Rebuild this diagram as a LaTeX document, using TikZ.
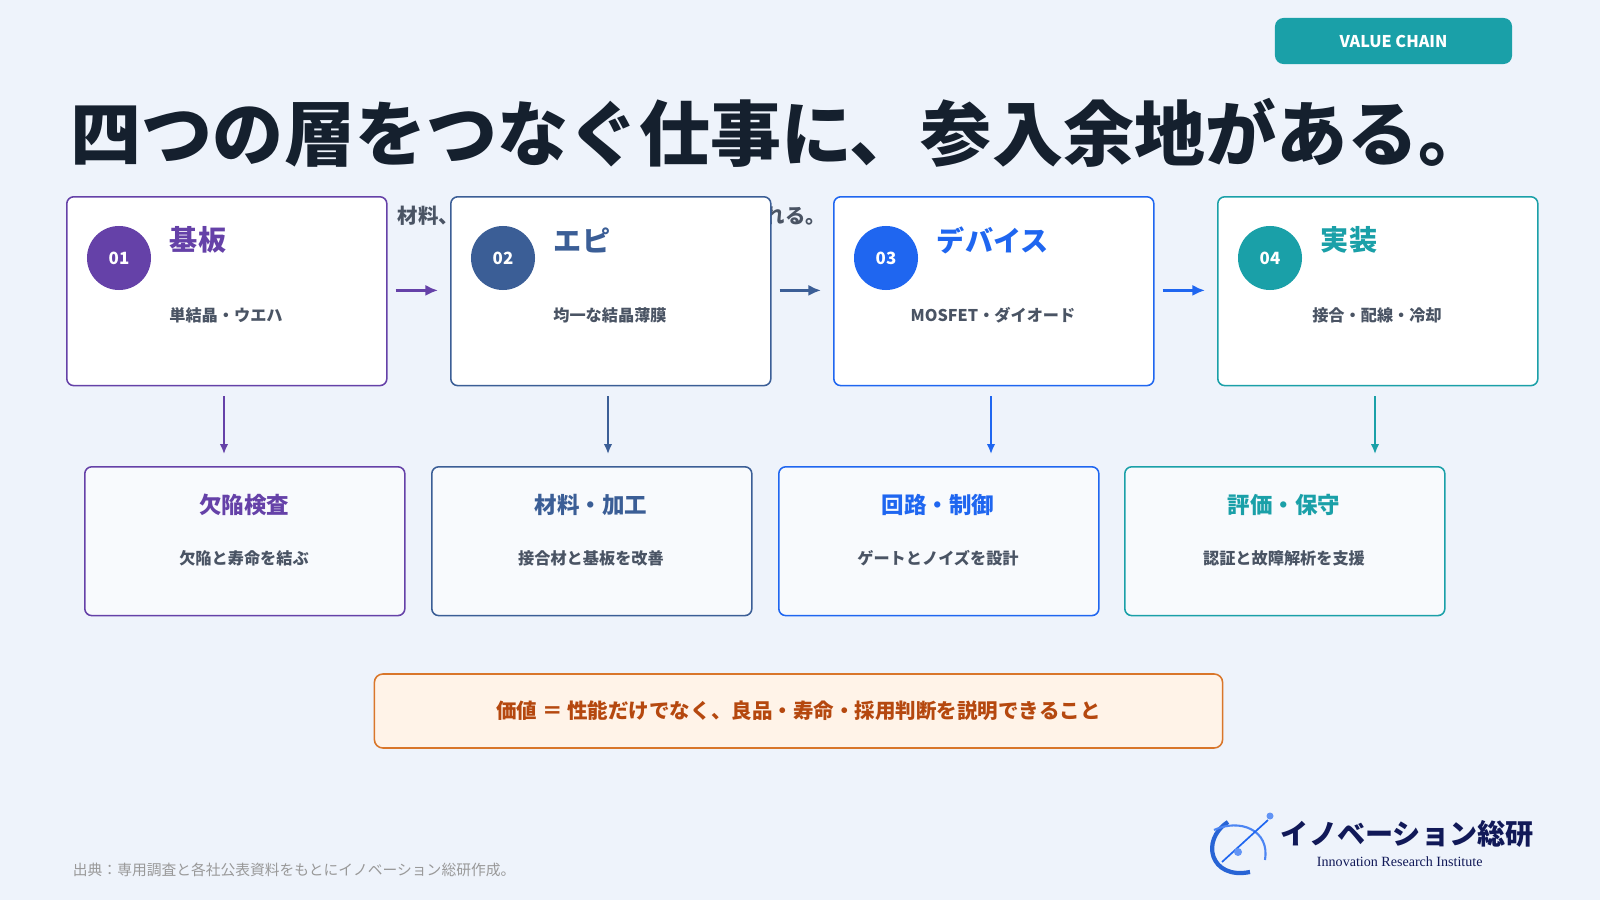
\documentclass[tikz,border=0pt]{standalone}
\usetikzlibrary{arrows.meta}
\usepackage{fontspec}
\setmainfont{Noto Sans CJK JP}
\newfontfamily\jp{Noto Sans CJK JP}
\newfontfamily\lser{Liberation Serif}
\definecolor{bg}{HTML}{EEF3FB}
\definecolor{cA}{HTML}{6541A8}
\definecolor{cB}{HTML}{3B5E96}
\definecolor{cC}{HTML}{1F66F0}
\definecolor{cD}{HTML}{1AA0A8}
\definecolor{ink}{HTML}{15202E}
\definecolor{sub}{HTML}{4A5464}
\definecolor{orF}{HTML}{FFF3E8}
\definecolor{orD}{HTML}{D9762A}
\definecolor{orT}{HTML}{B5480F}
\begin{document}
\begin{tikzpicture}[x=0.025cm,y=-0.025cm,
 top/.style={draw=#1,line width=1.1pt,fill=white,rounded corners=5pt,minimum width=8cm,minimum height=4.72cm,anchor=north west},
 bot/.style={draw=#1,line width=1.1pt,fill=white!60!bg,rounded corners=5pt,minimum width=8cm,minimum height=3.72cm,anchor=north west},
 num/.style={circle,fill=#1,minimum size=1.6cm,text=white,font=\bfseries\fontsize{12}{12}\selectfont},
 ttl/.style={text=#1,font=\bfseries\fontsize{20}{20}\selectfont,anchor=west},
 stx/.style={text=sub,font=\bfseries\fontsize{11.5}{12}\selectfont},
 btl/.style={text=#1,font=\bfseries\fontsize{16}{16}\selectfont},
 arr/.style={draw=#1,line width=1.8pt,-{Latex[length=9pt,width=8pt]}},
 varr/.style={draw=#1,line width=1.2pt,-{Latex[length=7pt,width=6pt]}}]
\fill[bg] (0,0) rectangle (1600,900);
\node[fill=cD,rounded corners=6pt,minimum width=5.925cm,minimum height=1.15cm,text=white,font=\bfseries\fontsize{11.5}{12}\selectfont] (badge) at (1393.5,41) {VALUE CHAIN};
\node[anchor=west,text=ink,font=\bfseries\fontsize{50.5}{52}\selectfont] (title) at (66,133) {四つの層をつなぐ仕事に、参入余地がある。};
\node[anchor=west,text=sub,font=\bfseries\fontsize{14.5}{15}\selectfont] (hid) at (393,216) {材料、装置、評価の知見が横断的に求めれる。};
\foreach \i/\x/\c/\n/\t/\s/\vx in {1/66/cA/01/基板/単結晶・ウエハ/224,2/450/cB/02/エピ/均一な結晶薄膜/608,3/833/cC/03/デバイス/MOSFET・ダイオード/991,4/1217/cD/04/実装/接合・配線・冷却/1375}{
 \node[top=\c] (t\i) at (\x,196) {};
 \node[num=\c] (n\i) at (\x+53,258) {\n};
 \node[ttl=\c] (h\i) at (\x+99,240) {\t};
 \node[stx] (s\i) at (\x+160,315) {\s};
 \coordinate (va\i) at (\vx,396);
 \coordinate (vb\i) at (\vx,454);
 \draw[varr=\c] (va\i) -- (vb\i);
}
\foreach \a/\b/\c in {1/2/cA,2/3/cB,3/4/cC}{
 \draw[arr=\c] ([xshift=0.2cm,yshift=0.02cm]t\a.east) -- ([xshift=-0.3cm,yshift=0.02cm]t\b.west);
}
\foreach \i/\x/\c/\t/\s in {1/84/cA/欠陥検査/欠陥と寿命を結ぶ,2/431/cB/材料・加工/接合材と基板を改善,3/778/cC/回路・制御/ゲートとノイズを設計,4/1124/cD/評価・保守/認証と故障解析を支援}{
 \node[bot=\c] (b\i) at (\x,466) {};
 \node[btl=\c] (bt\i) at (\x+160,505) {\t};
 \node[stx] (bs\i) at (\x+160,558) {\s};
}
\node[draw=orD,fill=orF,line width=1.1pt,rounded corners=6pt,minimum width=21.2cm,minimum height=1.85cm,text=orT,font=\bfseries\fontsize{14.6}{15}\selectfont] (banner) at (798.5,711) {価値 ＝ 性能だけでなく、良品・寿命・採用判断を説明できること};
\node[anchor=west,text=gray!80,font=\fontsize{10.5}{11}\selectfont] (src) at (68,870) {出典：専用調査と各社公表資料をもとにイノベーション総研作成。};
% logo
\draw[line width=3pt,cC!70!cB] (1228,822) .. controls (1200,840) and (1210,880) .. (1250,872);
\draw[line width=1.5pt,cC!80] (1214,830) .. controls (1240,818) and (1270,830) .. (1265,860);
\draw[line width=1.2pt,cC] (1222,862) -- (1268,820);
\fill[cC!70] (1270,816) circle (3.5);
\fill[cC!70] (1238,852) circle (4);
\node[anchor=west,text=ink!80!blue,font=\jp\bfseries\fontsize{20}{20}\selectfont] (logo) at (1276,834) {イノベーション総研};
\node[anchor=west,text=ink!80!blue,font=\lser\fontsize{10}{10}\selectfont] (logo2) at (1312,862) {Innovation Research Institute};
\end{tikzpicture}
\end{document}
